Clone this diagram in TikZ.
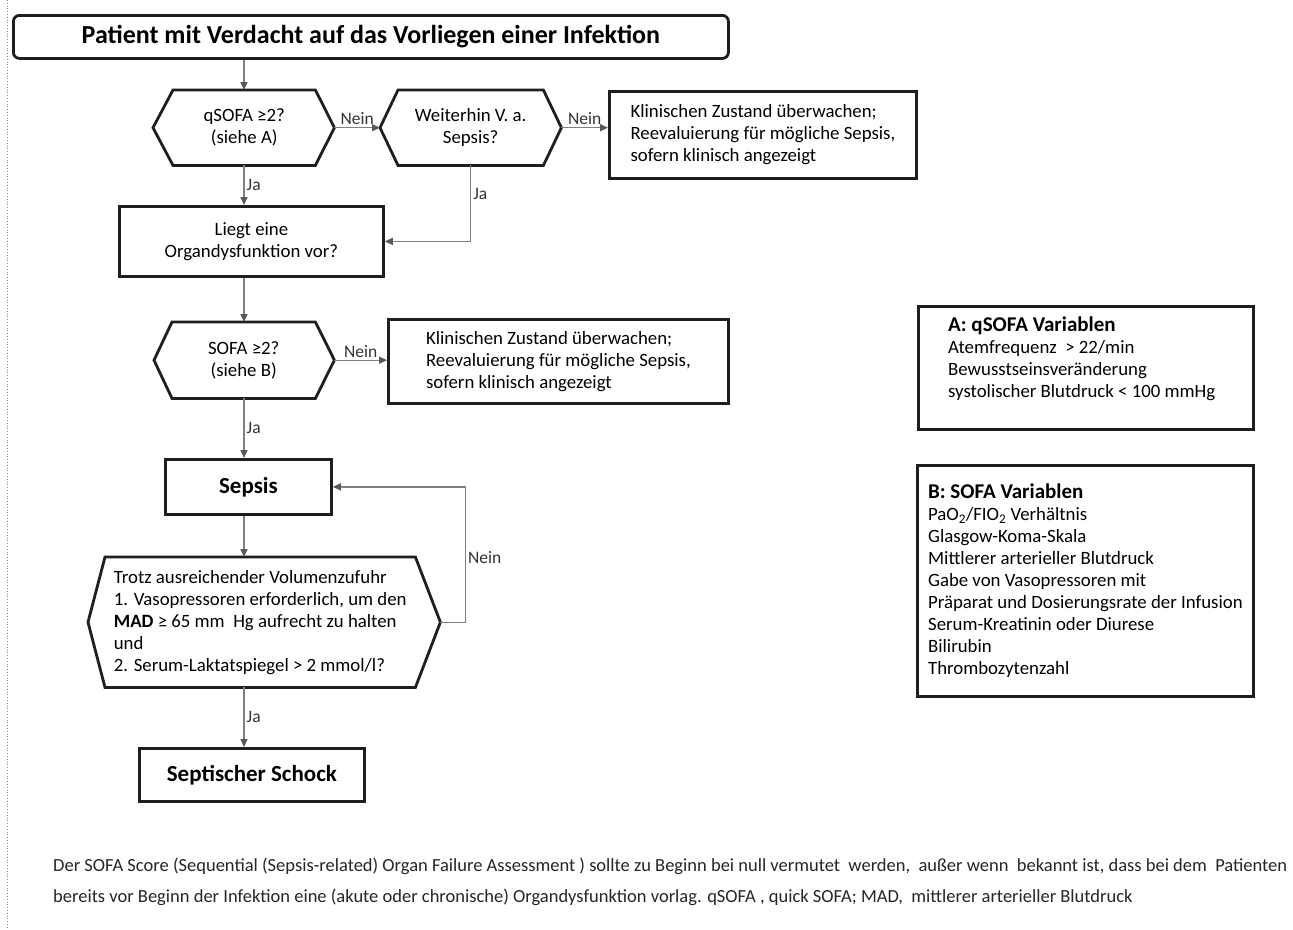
\documentclass[tikz,border=0pt]{standalone}
\usepackage{fontspec}
\setmainfont{Carlito}
\usetikzlibrary{arrows.meta,calc}
\newcommand\myheadfont{\fontsize{21}{22}\selectfont\bfseries}
\begin{document}
\begin{tikzpicture}[x=1pt,y=-1pt,
  frame/.style={draw=black!88, line width=2.8pt, line join=miter},
  box/.style={frame, inner sep=0pt, anchor=north west, align=center},
  hexin/.style={inner sep=0pt, anchor=north west, align=center},
  txt/.style={font=\fontsize{18.8}{22}\selectfont},
  btxt/.style={font=\fontsize{23}{26}\selectfont\bfseries},
  ttxt/.style={font=\fontsize{26}{30}\selectfont\bfseries},
  lbl/.style={font=\fontsize{17.5}{20}\selectfont, text=black!80, inner sep=2pt},
  arr/.style={draw=black!50, line width=1.4pt, -{Triangle[length=8pt,width=7pt,color=black!65]}},
  foot/.style={font=\fontsize{18.5}{31}\selectfont, text=black!85, align=left, inner sep=0pt, anchor=north west},
]
\useasboundingbox (0,0) rectangle (1293,929);
\fill[white] (0,0) rectangle (1293,929);
\draw[black!45, dotted, line width=0.8pt] (7,0) -- (7,929);
\coordinate (col) at (244,0);

% top box
\node[box, rounded corners=6pt, minimum width=715pt, minimum height=43pt, ttxt] (start) at (12,14)
  {Patient mit Verdacht auf das Vorliegen einer Infektion};

% qSOFA hexagon
\node[hexin, minimum width=142pt, minimum height=75pt, txt] (q) at (173,90) {qSOFA ≥2?\\(siehe A)};
\draw[frame] (q.north west) -- (q.north east) -- ($(q.east)+(19,0)$) coordinate (qE) -- (q.south east)
  -- (q.south west) -- ($(q.west)+(-20,0)$) coordinate (qW) -- cycle;

% Weiterhin hexagon
\node[hexin, minimum width=145pt, minimum height=75pt, txt] (w) at (398,90) {Weiterhin V. a.\\Sepsis?};
\draw[frame] (w.north west) -- (w.north east) -- ($(w.east)+(18,0)$) coordinate (wE) -- (w.south east)
  -- (w.south west) -- ($(w.west)+(-18,0)$) coordinate (wW) -- cycle;

% Klinisch 1
\node[box, minimum width=307pt, minimum height=87pt, txt, align=left] (k1) at (608,90)
  {Klinischen Zustand überwachen;\\Reevaluierung für mögliche Sepsis,\\sofern klinisch angezeigt};

% Liegt
\node[box, minimum width=264pt, minimum height=70pt, txt] (liegt) at (118,205)
  {Liegt eine\\Organdysfunktion vor?};

% SOFA hexagon
\node[hexin, minimum width=143pt, minimum height=76pt, txt] (s) at (172,322) {SOFA ≥2?\\(siehe B)};
\draw[frame] (s.north west) -- (s.north east) -- ($(s.east)+(19,0)$) coordinate (sE) -- (s.south east)
  -- (s.south west) -- ($(s.west)+(-18,0)$) coordinate (sW) -- cycle;

% Klinisch 2
\node[box, minimum width=340pt, minimum height=84pt, txt, align=left] (k2) at (387,318)
  {Klinischen Zustand überwachen;\\Reevaluierung für mögliche Sepsis,\\sofern klinisch angezeigt};

% Sepsis
\node[box, minimum width=166pt, minimum height=55pt, btxt] (sepsis) at (164,458) {Sepsis};

% Trotz hexagon
\node[hexin, minimum width=310pt, minimum height=130pt, txt, align=left] (t) at (105,557)
  {Trotz ausreichender Volumenzufuhr\\1. Vasopressoren erforderlich, um den\\\textbf{MAD} ≥ 65 mm\ \ Hg aufrecht zu halten\\und\\2. Serum-Laktatspiegel > 2 mmol/l?};
\draw[frame] (t.north west) -- (t.north east) -- ($(t.east)+(25,0)$) coordinate (tE) -- (t.south east)
  -- (t.south west) -- ($(t.west)+(-17,0)$) coordinate (tW) -- cycle;

% Septischer Schock
\node[box, minimum width=225pt, minimum height=53pt, btxt] (shock) at (138,747) {Septischer Schock};

% A box
\node[box, minimum width=335pt, minimum height=123pt] (abox) at (917,305) {};
\node[inner sep=0pt, anchor=north west, align=left, txt] (atext) at (948,317)
  {{\myheadfont A: qSOFA Variablen}\\Atemfrequenz\ \ > 22/min\\Bewusstseinsveränderung\\systolischer Blutdruck < 100 mmHg};

% B box
\node[box, minimum width=336pt, minimum height=231pt, txt, align=left] (bbox) at (916,464)
  {{\myheadfont B: SOFA Variablen}\\PaO\textsubscript{2}/FIO\textsubscript{2} Verhältnis\\Glasgow-Koma-Skala\\Mittlerer arterieller Blutdruck\\Gabe von Vasopressoren mit\\Präparat und Dosierungsrate der Infusion\\Serum-Kreatinin oder Diurese\\Bilirubin\\Thrombozytenzahl};

% footnote
\node[foot] (fn) at (53,858)
  {Der SOFA Score (Sequential (Sepsis-related) Organ Failure Assessment ) sollte zu Beginn bei null vermutet\ \ werden,\ \ außer wenn\ \ bekannt ist, dass bei dem\ \ Patienten\\bereits vor Beginn der Infektion eine (akute oder chronische) Organdysfunktion vorlag. qSOFA , quick SOFA; MAD,\ \ mittlerer arterieller Blutdruck};

% connectors
\draw[arr] (start.south -| col) -- (q.north -| col);
\draw[arr] (qE) -- (wW) node[midway, above, lbl] {Nein};
\draw[arr] (wE) -- (wE -| k1.west) node[midway, above, lbl] {Nein};
\draw[arr] (q.south -| col) -- (liegt.north -| col) node[midway, right, lbl] {Ja};
\draw[arr] (w.south) |- node[pos=0.19, right, lbl] {Ja} (liegt.east);
\draw[arr] (liegt.south -| col) -- (s.north -| col);
\draw[arr] (sE) -- (sE -| k2.west) node[midway, above, lbl] {Nein};
\draw[arr] (s.south -| col) -- (sepsis.north -| col) node[midway, right, lbl] {Ja};
\draw[arr] (sepsis.south -| col) -- (t.north -| col);
\draw[arr] (tE) -- ++(25,0) |- node[pos=0.24, right, lbl] {Nein} (sepsis.east);
\draw[arr] (t.south -| col) -- (shock.north -| col) node[midway, right, lbl] {Ja};
\end{tikzpicture}
\end{document}
